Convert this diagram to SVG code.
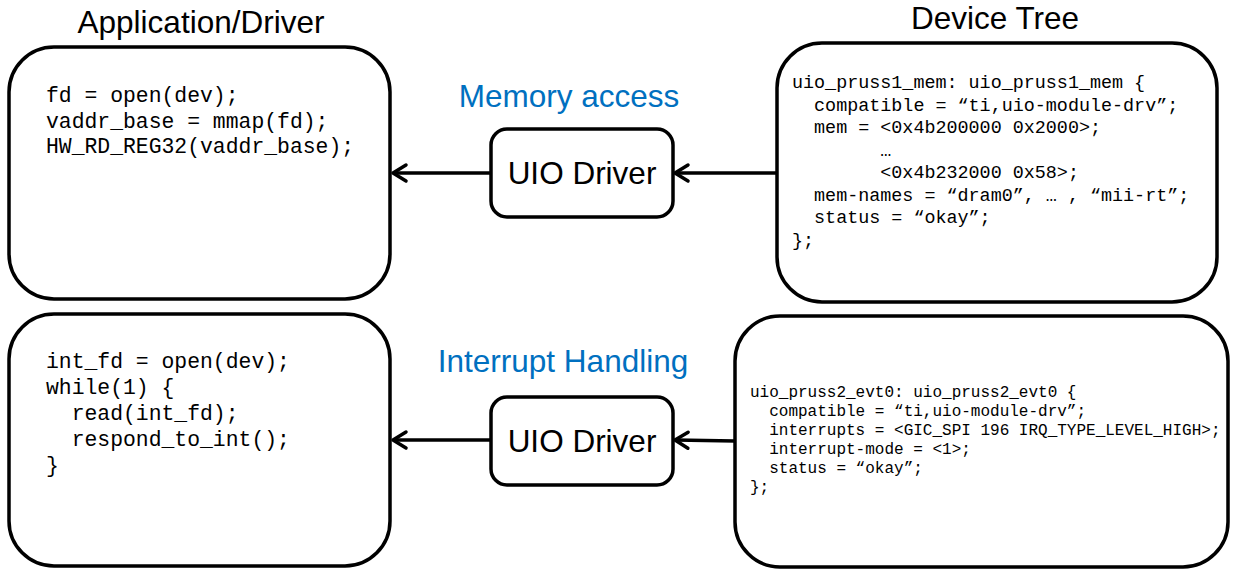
<svg xmlns="http://www.w3.org/2000/svg" width="1236" height="577" viewBox="0 0 1236 577">
<defs>
<marker id="arr" markerUnits="userSpaceOnUse" markerWidth="24" markerHeight="24" refX="16" refY="12" orient="auto" overflow="visible">
<path d="M3,4 L16,12 L3,20" fill="none" stroke="#000" stroke-width="3.5" stroke-linecap="round" stroke-linejoin="round"/>
</marker>
<style>
.box{fill:#fff;stroke:#000;stroke-width:3.5}
.code{font-family:"Liberation Mono","Courier New",monospace;fill:#000;white-space:pre}
.title{font-family:"Liberation Sans",Arial,sans-serif;font-size:31.5px;fill:#000;text-anchor:middle}
.lbl{font-family:"Liberation Sans",Arial,sans-serif;font-size:31.5px;fill:#0070C0;text-anchor:middle}
.drv{font-family:"Liberation Sans",Arial,sans-serif;font-size:31.5px;fill:#000;text-anchor:middle}
.conn{fill:none;stroke:#000;stroke-width:3.5}
</style>
</defs>
<rect width="1236" height="577" fill="#fff"/>
<text class="title" x="201" y="33">Application/Driver</text>
<text class="title" x="995" y="29">Device Tree</text>
<text class="lbl" x="569" y="107">Memory access</text>
<text class="lbl" x="563" y="372">Interrupt Handling</text>
<g id="connectors">
<path class="conn" d="M777,173 L675,173" marker-end="url(#arr)"/>
<path class="conn" d="M491,173 L393,173" marker-end="url(#arr)"/>
<path class="conn" d="M735,441 L675,440" marker-end="url(#arr)"/>
<path class="conn" d="M491,440 L393,440" marker-end="url(#arr)"/>
</g>
<g id="app-mem">
<rect class="box" x="9" y="47" width="381" height="252" rx="45" ry="45"/>
<text class="code" font-size="21.4" xml:space="preserve"><tspan x="46" y="102">fd = open(dev);</tspan><tspan x="46" y="127.5">vaddr_base = mmap(fd);</tspan><tspan x="46" y="153">HW_RD_REG32(vaddr_base);</tspan></text>
</g>
<g id="app-int">
<rect class="box" x="9" y="314" width="381" height="252" rx="45" ry="45"/>
<text class="code" font-size="21.4" xml:space="preserve"><tspan x="46" y="368">int_fd = open(dev);</tspan><tspan x="46" y="394">while(1) {</tspan><tspan x="46" y="420">  read(int_fd);</tspan><tspan x="46" y="446">  respond_to_int();</tspan><tspan x="46" y="472">}</tspan></text>
</g>
<g id="uio-mem">
<rect class="box" x="491" y="129" width="182" height="88" rx="16" ry="16"/>
<text class="drv" x="582" y="184">UIO Driver</text>
</g>
<g id="uio-int">
<rect class="box" x="491" y="397" width="182" height="88" rx="16" ry="16"/>
<text class="drv" x="582" y="452">UIO Driver</text>
</g>
<g id="dt-mem">
<rect class="box" x="777" y="43" width="440" height="259" rx="45" ry="45"/>
<text class="code" font-size="18.4" xml:space="preserve"><tspan x="792" y="88">uio_pruss1_mem: uio_pruss1_mem {</tspan><tspan x="792" y="110.5">  compatible = “ti,uio-module-drv”;</tspan><tspan x="792" y="133">  mem = &lt;0x4b200000 0x2000&gt;;</tspan><tspan x="792" y="155.5">        …</tspan><tspan x="792" y="178">        &lt;0x4b232000 0x58&gt;;</tspan><tspan x="792" y="200.5">  mem-names = “dram0”, … , “mii-rt”;</tspan><tspan x="792" y="223">  status = “okay”;</tspan><tspan x="792" y="245.5">};</tspan></text>
</g>
<g id="dt-int">
<rect class="box" x="735" y="316" width="493" height="251" rx="45" ry="45"/>
<text class="code" font-size="16" xml:space="preserve"><tspan x="750" y="397">uio_pruss2_evt0: uio_pruss2_evt0 {</tspan><tspan x="750" y="416">  compatible = “ti,uio-module-drv”;</tspan><tspan x="750" y="435">  interrupts = &lt;GIC_SPI 196 IRQ_TYPE_LEVEL_HIGH&gt;;</tspan><tspan x="750" y="454">  interrupt-mode = &lt;1&gt;;</tspan><tspan x="750" y="473">  status = “okay”;</tspan><tspan x="750" y="492">};</tspan></text>
</g>
</svg>
